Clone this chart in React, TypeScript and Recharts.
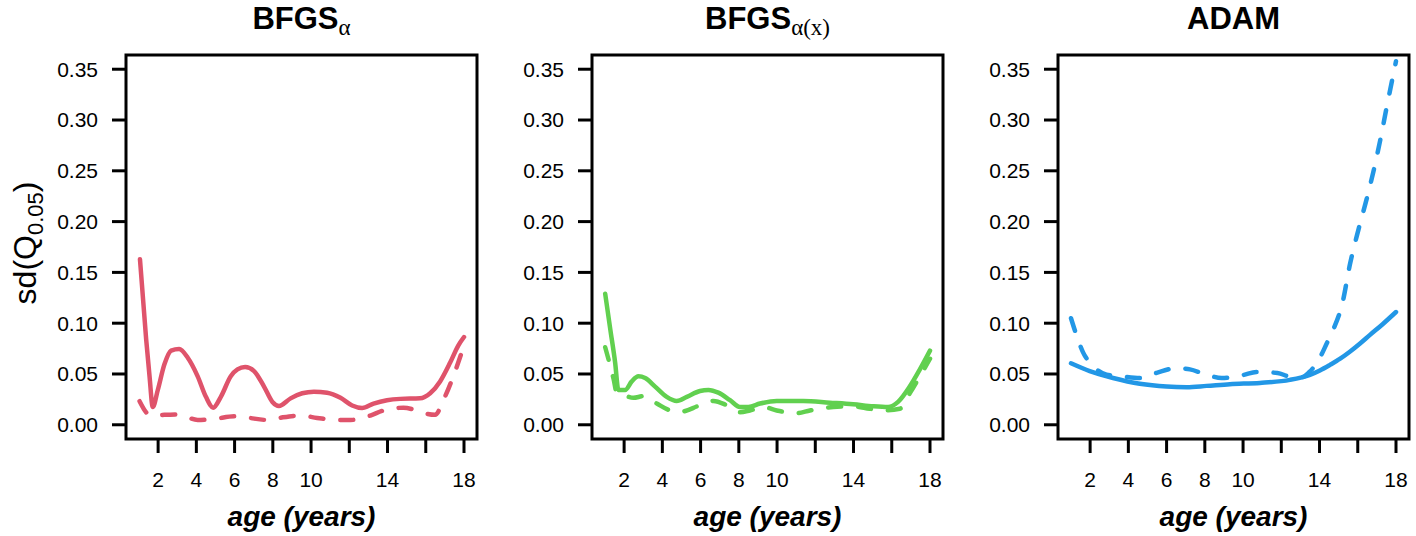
import React from 'react';
import { LineChart, Line, XAxis, YAxis, ReferenceArea } from 'recharts';

const FONT = '"Liberation Sans", Arial, Helvetica, sans-serif';

const ageTicks = [2, 4, 6, 8, 10, 12, 14, 16, 18];
const shownAgeLabels = [2, 4, 6, 8, 10, 14, 18];
const sdTicks = [0, 0.05, 0.1, 0.15, 0.2, 0.25, 0.3, 0.35];

// BFGS alpha (red)
const bfgsSolidAge = [1.05, 1.375, 1.55, 1.72, 1.98, 2.33, 2.68, 3.1, 3.55, 4.07, 4.5, 4.88, 5.28, 5.8, 6.15, 6.55, 7.02, 7.54, 7.98, 8.32, 8.93, 9.54, 10.15, 10.84, 11.54, 12.15, 12.67, 13.27, 13.97, 14.66, 15.7, 16.23, 16.75, 17.27, 17.7, 18.0];
const bfgsSolidSd = [0.163, 0.084, 0.048, 0.0175, 0.034, 0.0595, 0.073, 0.0746, 0.066, 0.0477, 0.0275, 0.0168, 0.0275, 0.0477, 0.0545, 0.0568, 0.0528, 0.0376, 0.0225, 0.0185, 0.026, 0.031, 0.0326, 0.0316, 0.0265, 0.019, 0.0165, 0.0209, 0.0242, 0.0255, 0.026, 0.031, 0.0427, 0.061, 0.078, 0.0864];
const bfgsDashAge = [1.03, 1.46, 1.75, 2.33, 3.03, 4.07, 4.93, 5.98, 6.67, 7.72, 8.41, 9.45, 10.32, 11.36, 12.06, 13.1, 13.79, 14.83, 15.53, 16.05, 16.49, 16.92, 17.44, 18.0];
const bfgsDashSd = [0.0232, 0.0108, 0.009, 0.0098, 0.0102, 0.0047, 0.0057, 0.0084, 0.007, 0.0047, 0.007, 0.0091, 0.0067, 0.0047, 0.0047, 0.0091, 0.0141, 0.0168, 0.0141, 0.0108, 0.0098, 0.0242, 0.0477, 0.078];

// BFGS alpha(x) (green)
const bfgsxSolidAge = [1.01, 1.27, 1.53, 1.7, 2.05, 2.4, 2.75, 3.1, 3.62, 4.23, 4.75, 5.28, 5.97, 6.41, 6.93, 7.54, 8.06, 8.5, 9.11, 9.98, 11.37, 12.76, 13.98, 15.03, 15.81, 16.33, 16.94, 17.47, 18.0];
const bfgsxSolidSd = [0.129, 0.0948, 0.0612, 0.0343, 0.0343, 0.0427, 0.0477, 0.046, 0.0376, 0.0275, 0.0235, 0.0275, 0.0333, 0.0343, 0.0316, 0.0242, 0.0175, 0.0175, 0.0209, 0.0235, 0.0235, 0.0218, 0.0202, 0.0182, 0.0175, 0.0225, 0.0376, 0.0545, 0.073];
const bfgsxDashAge = [1.01, 1.23, 1.45, 1.62, 2.0, 2.49, 3.01, 3.71, 4.4, 4.84, 5.97, 6.67, 7.37, 8.06, 8.58, 9.28, 9.98, 11.02, 11.72, 12.94, 13.98, 14.85, 15.55, 16.42, 16.94, 17.47, 18.0];
const bfgsxDashSd = [0.0763, 0.0612, 0.045, 0.031, 0.029, 0.0265, 0.0282, 0.0209, 0.0141, 0.0124, 0.0192, 0.0235, 0.0192, 0.0124, 0.0141, 0.0175, 0.0141, 0.0114, 0.0141, 0.0175, 0.0182, 0.0158, 0.0141, 0.0158, 0.0309, 0.0477, 0.065];

// ADAM (blue)
const adamSolidAge = [1.0, 1.98, 3.2, 4.6, 6.0, 7.05, 8.09, 9.31, 10.88, 12.45, 13.5, 14.02, 14.55, 15.08, 15.6, 16.12, 16.64, 17.3, 18.0];
const adamSolidSd = [0.0605, 0.0528, 0.046, 0.0403, 0.0376, 0.037, 0.0383, 0.04, 0.0412, 0.0442, 0.0492, 0.0535, 0.059, 0.065, 0.0721, 0.08, 0.0885, 0.099, 0.111];
const adamDashAge = [1.0, 1.29, 1.63, 2.07, 2.86, 3.64, 4.6, 5.48, 6.52, 7.22, 8.09, 8.88, 10.01, 10.7, 11.8, 12.56, 13.1, 13.47, 13.93, 14.4, 14.7, 15.2, 15.6, 16.04, 16.47, 16.82, 17.17, 17.52, 18.0];
const adamDashSd = [0.1049, 0.088, 0.0713, 0.0595, 0.0494, 0.0477, 0.046, 0.0511, 0.0558, 0.0545, 0.0494, 0.046, 0.049, 0.052, 0.051, 0.047, 0.047, 0.052, 0.063, 0.081, 0.093, 0.12, 0.1587, 0.1924, 0.2226, 0.2494, 0.2797, 0.3134, 0.3578];

const zip = (a: number[], b: number[]) => a.map((x, i) => ({ age: x, sd: b[i] }));

const panels = [
  { key: 'a', color: '#DF536B', solid: zip(bfgsSolidAge, bfgsSolidSd), dashed: zip(bfgsDashAge, bfgsDashSd) },
  { key: 'b', color: '#61D04F', solid: zip(bfgsxSolidAge, bfgsxSolidSd), dashed: zip(bfgsxDashAge, bfgsxDashSd) },
  { key: 'c', color: '#2297E6', solid: zip(adamSolidAge, adamSolidSd), dashed: zip(adamDashAge, adamDashSd) },
];

const X_DOMAIN: [number, number] = [0.32, 18.68];
const Y_DOMAIN: [number, number] = [-0.014, 0.364];
const STEP = 466;
const BOX_LEFT = 126;
const BOX_W = 351;

function Panel({ p, idx }: { p: typeof panels[number]; idx: number }) {
  return (
    <div style={{ position: 'absolute', left: idx * STEP, top: 0 }}>
      <LineChart width={484} height={536} margin={{ top: 55, right: 7, bottom: 47, left: 0 }}>
        <XAxis
          type="number"
          dataKey="age"
          domain={X_DOMAIN}
          allowDataOverflow
          ticks={ageTicks}
          interval={0}
          tickFormatter={(v: number) => (shownAgeLabels.includes(v) ? String(v) : '')}
          axisLine={false}
          tickSize={14}
          tickMargin={19}
          height={50}
          tickLine={{ stroke: '#000', strokeWidth: 3 }}
          tick={{ fill: '#000', fontSize: 21, fontFamily: FONT }}
        />
        <YAxis
          type="number"
          domain={Y_DOMAIN}
          allowDataOverflow
          ticks={sdTicks}
          interval={0}
          width={BOX_LEFT}
          tickFormatter={(v: number) => v.toFixed(2)}
          axisLine={false}
          tickSize={14}
          tickMargin={14}
          tickLine={{ stroke: '#000', strokeWidth: 3 }}
          tick={{ fill: '#000', fontSize: 21, fontFamily: FONT }}
        />
        <ReferenceArea
          x1={X_DOMAIN[0]}
          x2={X_DOMAIN[1]}
          y1={Y_DOMAIN[0]}
          y2={Y_DOMAIN[1]}
          fill="none"
          fillOpacity={0}
          stroke="#000"
          strokeWidth={3}
          ifOverflow="visible"
        />
        <Line
          data={p.dashed}
          dataKey="sd"
          type="monotone"
          stroke={p.color}
          strokeWidth={4.5}
          strokeDasharray="13 17"
          strokeLinecap="round"
          dot={false}
          activeDot={false}
          isAnimationActive={false}
        />
        <Line
          data={p.solid}
          dataKey="sd"
          type="monotone"
          stroke={p.color}
          strokeWidth={4.5}
          strokeLinecap="round"
          dot={false}
          activeDot={false}
          isAnimationActive={false}
        />
      </LineChart>
    </div>
  );
}

export default function App() {
  const cx = (i: number) => BOX_LEFT + BOX_W / 2 + i * STEP;
  return (
    <div style={{ position: 'absolute', left: 0, top: 0, width: 1416, height: 536, background: '#fff', overflow: 'hidden' }}>
      {panels.map((p, i) => (
        <Panel key={p.key} p={p} idx={i} />
      ))}
      <svg width={1416} height={536} style={{ position: 'absolute', left: 0, top: 0, pointerEvents: 'none' }}>
        <text x={cx(0)} y={29} textAnchor="middle" fontFamily={FONT} fontWeight="bold" fontSize={31} fill="#000">
          BFGS
          <tspan fontFamily='"Liberation Serif", "DejaVu Serif", serif' fontWeight="normal" fontSize={23} dy={6}>α</tspan>
        </text>
        <text x={cx(1)} y={29} textAnchor="middle" fontFamily={FONT} fontWeight="bold" fontSize={31} fill="#000">
          BFGS
          <tspan fontFamily='"Liberation Serif", "DejaVu Serif", serif' fontWeight="normal" fontSize={23} dy={6}>α(x)</tspan>
        </text>
        <text x={cx(2)} y={29} textAnchor="middle" fontFamily={FONT} fontWeight="bold" fontSize={31} fill="#000">
          ADAM
        </text>
        {[0, 1, 2].map((i) => (
          <text key={i} x={cx(i)} y={526} textAnchor="middle" fontFamily={FONT} fontWeight="bold" fontStyle="italic" fontSize={28} fill="#000">
            age (years)
          </text>
        ))}
        <text x={36} y={243} transform="rotate(-90 36 243)" textAnchor="middle" fontFamily={FONT} fontSize={32} fill="#000">
          sd(Q
          <tspan fontSize={22} dy={7}>0.05</tspan>
          <tspan dy={-7}>)</tspan>
        </text>
      </svg>
    </div>
  );
}
